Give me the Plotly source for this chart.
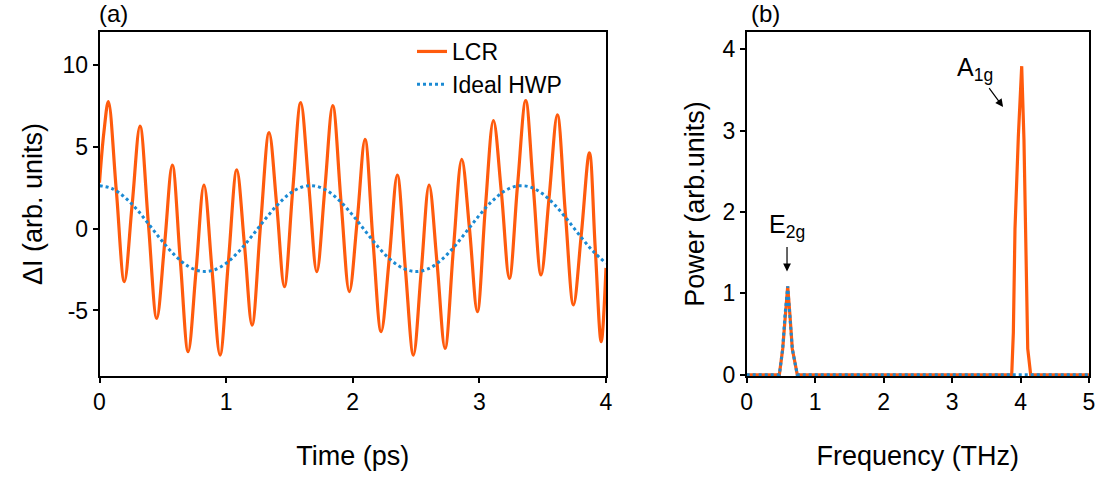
import plotly.graph_objects as go

# ---------------- data ----------------
# Panel (a): time-domain signal, LCR (extrema and mid-crossings)
lcr_t = [0.000, 0.035, 0.070, 0.133, 0.196, 0.258, 0.320, 0.386, 0.452, 0.514,
         0.575, 0.638, 0.700, 0.763, 0.825, 0.889, 0.952, 1.018, 1.084, 1.145,
         1.205, 1.272, 1.339, 1.400, 1.460, 1.525, 1.589, 1.653, 1.716, 1.779,
         1.842, 1.908, 1.973, 2.035, 2.097, 2.160, 2.224, 2.288, 2.352, 2.416,
         2.479, 2.541, 2.603, 2.666, 2.729, 2.795, 2.861, 2.922, 2.984, 3.047,
         3.111, 3.174, 3.237, 3.301, 3.366, 3.426, 3.487, 3.551, 3.616, 3.679,
         3.743, 3.806, 3.869, 3.915, 3.962, 4.000]
lcr_v = [2.80, 5.90, 7.75, 2.30, -3.24, 1.48, 6.26, 0.30, -5.48, -0.94,
         3.88, -1.94, -7.51, -2.53, 2.66, -2.56, -7.72, -2.01, 3.58, -1.01,
         -5.89, 0.22, 5.86, 1.40, -3.55, 2.25, 7.69, 2.62, -2.63, 2.38,
         7.50, 1.60, -3.85, 0.47, 5.45, -0.76, -6.29, -1.87, 3.27, -2.50,
         -7.72, -2.60, 2.66, -2.13, -7.31, -1.24, 4.23, -0.02, -5.07, 1.25,
         6.59, 2.19, -3.04, 2.60, 7.81, 2.52, -2.83, 1.94, 6.94, 0.95,
         -4.66, -0.28, 4.63, -1.20, -6.90, -2.40]

# Panel (a): Ideal HWP
hwp_t = [0.0, 0.1, 0.2, 0.3, 0.4, 0.5, 0.6, 0.7, 0.8, 0.9, 1.0, 1.1, 1.2, 1.3,
         1.4, 1.5, 1.6, 1.7, 1.8, 1.9, 2.0, 2.1, 2.2, 2.3, 2.4, 2.5, 2.6, 2.7,
         2.8, 2.9, 3.0, 3.1, 3.2, 3.3, 3.4, 3.5, 3.6, 3.7, 3.8, 3.9, 4.0]
hwp_v = [2.62, 2.44, 1.91, 1.12, 0.16, -0.81, -1.67, -2.30, -2.60, -2.54, -2.12,
         -1.40, -0.49, 0.49, 1.40, 2.12, 2.54, 2.60, 2.30, 1.67, 0.81, -0.16,
         -1.12, -1.91, -2.44, -2.62, -2.44, -1.91, -1.12, -0.16, 0.81, 1.67,
         2.30, 2.60, 2.54, 2.12, 1.40, 0.49, -0.49, -1.40, -2.12]

# Panel (b): power spectra
lcr_f = [0.00, 0.477, 0.526, 0.559, 0.599, 0.632, 0.666, 0.739, 3.871, 3.895,
         3.919, 3.968, 4.017, 4.050, 4.080, 4.105, 4.148, 5.00]
lcr_p = [0.00, 0.00, 0.32, 0.73, 1.086, 0.73, 0.32, 0.00, 0.00, 0.52,
         1.79, 2.93, 3.79, 2.89, 1.66, 0.32, 0.00, 0.00]
hwp_f = [0.00, 0.477, 0.526, 0.559, 0.599, 0.632, 0.666, 0.739, 5.00]
hwp_p = [0.00, 0.00, 0.32, 0.73, 1.086, 0.73, 0.32, 0.00, 0.00]

x1_ticks = [0, 1, 2, 3, 4]
y1_ticks = [-5, 0, 5, 10]
y1_ticktext = ["-5", "0", "5", "10"]
x2_ticks = [0, 1, 2, 3, 4, 5]
y2_ticks = [0, 1, 2, 3, 4]

# ---------------- styles ----------------
ORANGE = "#FF5B0D"
BLUE = "#1B8AD3"
FAM = "Liberation Sans, Arial, sans-serif"
TICKFONT = dict(family=FAM, size=23, color="black")
TITLEFONT = dict(family=FAM, size=27, color="black")

W, H = 1099, 482
def px_x(p):
    return p / W
def px_y(p):
    return 1 - p / H

fig = go.Figure()
fig.add_trace(go.Scatter(x=lcr_t, y=lcr_v, mode="lines", name="LCR",
                         line=dict(color=ORANGE, width=3.2, shape="spline", smoothing=1.0),
                         xaxis="x", yaxis="y"))
fig.add_trace(go.Scatter(x=hwp_t, y=hwp_v, mode="lines", name="Ideal HWP",
                         line=dict(color=BLUE, width=3, dash="dot", shape="spline", smoothing=1.0),
                         xaxis="x", yaxis="y"))
fig.add_trace(go.Scatter(x=lcr_f, y=lcr_p, mode="lines", showlegend=False,
                         line=dict(color=ORANGE, width=3.2),
                         xaxis="x2", yaxis="y2"))
fig.add_trace(go.Scatter(x=hwp_f, y=hwp_p, mode="lines", showlegend=False,
                         line=dict(color=BLUE, width=3, dash="dot"),
                         xaxis="x2", yaxis="y2"))

axis_common = dict(showgrid=False, zeroline=False, showline=True, linecolor="black",
                   linewidth=1.5, mirror=True, ticks="outside", ticklen=5,
                   tickwidth=1.5, tickcolor="black", tickfont=TICKFONT,
                   automargin=False)

ydom = [px_y(376), px_y(32)]
fig.update_layout(
    width=W, height=H,
    margin=dict(l=0, r=0, t=0, b=0),
    paper_bgcolor="white", plot_bgcolor="white",
    xaxis=dict(domain=[px_x(99.5), px_x(606)], range=[0, 4], tickvals=x1_ticks,
               title=dict(text="Time (ps)", font=TITLEFONT, standoff=32),
               anchor="y", **axis_common),
    yaxis=dict(domain=ydom, range=[-9, 12], tickvals=y1_ticks, ticktext=y1_ticktext,
               title=dict(text="ΔI (arb. units)", font=TITLEFONT, standoff=12),
               anchor="x", **axis_common),
    xaxis2=dict(domain=[px_x(746.7), px_x(1089)], range=[0, 5], tickvals=x2_ticks,
                title=dict(text="Frequency (THz)", font=TITLEFONT, standoff=32),
                anchor="y2", layer="below traces", **axis_common),
    yaxis2=dict(domain=ydom, range=[-0.015, 4.21], tickvals=y2_ticks,
                title=dict(text="Power (arb.units)", font=TITLEFONT, standoff=10),
                anchor="x2", **axis_common),
    legend=dict(x=px_x(412), y=px_y(30), xanchor="left", yanchor="top",
                bgcolor="rgba(0,0,0,0)", borderwidth=0,
                font=dict(family=FAM, size=23, color="black"),
                tracegroupgap=0),
    showlegend=True,
)

ann_font = dict(family=FAM, size=24, color="black")
peak_font = dict(family=FAM, size=25, color="black")
fig.add_annotation(text="(a)", xref="paper", yref="paper", x=px_x(97), y=px_y(13),
                   xanchor="left", yanchor="middle", showarrow=False, font=ann_font)
fig.add_annotation(text="(b)", xref="paper", yref="paper", x=px_x(749), y=px_y(13),
                   xanchor="left", yanchor="middle", showarrow=False, font=ann_font)
# peak labels with arrows
fig.add_annotation(text="A<sub>1g</sub>", xref="x2", yref="y2", x=3.745, y=3.29,
                   ax=-28, ay=-38, showarrow=True, arrowhead=2, arrowsize=1.3,
                   arrowwidth=1.2, arrowcolor="black", startstandoff=2, font=peak_font)
fig.add_annotation(text="E<sub>2g</sub>", xref="x2", yref="y2", x=0.589, y=1.27,
                   ax=0, ay=-45, showarrow=True, arrowhead=2, arrowsize=1.3,
                   arrowwidth=1.2, arrowcolor="black", startstandoff=3, font=peak_font)

fig.write_html("out.html")
